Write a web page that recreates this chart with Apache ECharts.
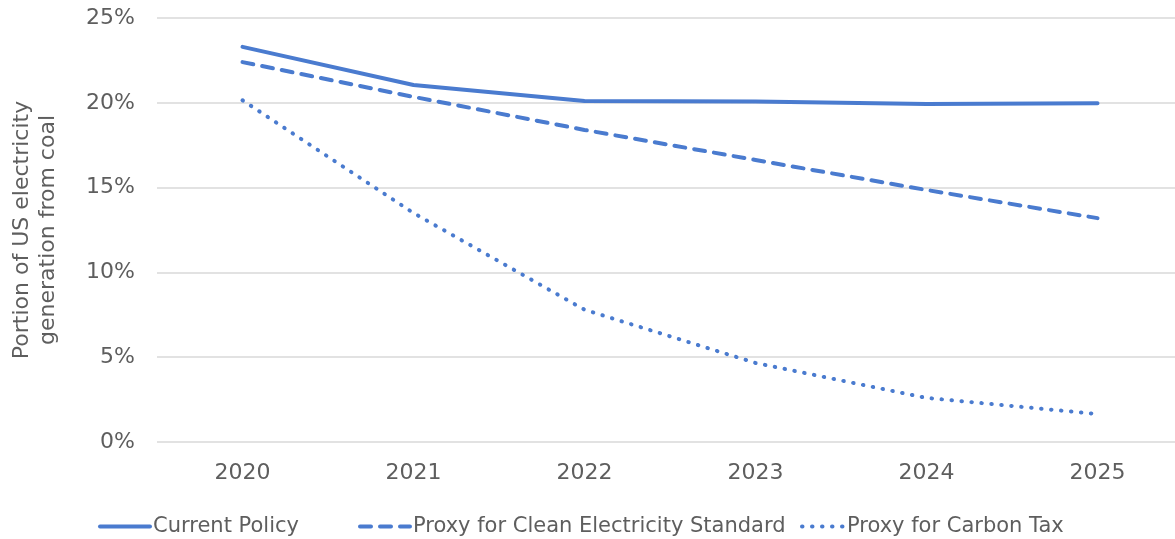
<!DOCTYPE html>
<html>
<head>
<meta charset="utf-8">
<script src="https://cdn.jsdelivr.net/npm/echarts@6/dist/echarts.min.js"></script>
<style>
  html, body { margin: 0; padding: 0; background: #fff; }
  #chart { width: 1175px; height: 539px; }
</style>
</head>
<body>
<div id="chart"></div>
<script>
// Share of US electricity generated from coal under three policy scenarios (%)
const years = ['2020', '2021', '2022', '2023', '2024', '2025'];
const currentPolicy = [23.3, 21.05, 20.1, 20.07, 19.93, 19.98];
const cleanElectricityStandard = [22.4, 20.35, 18.4, 16.63, 14.86, 13.2];
const carbonTax = [20.15, 13.5, 7.8, 4.66, 2.6, 1.65];
const yTicks = [0, 5, 10, 15, 20, 25];
const seriesNames = ['Current Policy', 'Proxy for Clean Electricity Standard', 'Proxy for Carbon Tax'];

const blue = '#4a7bcf';
const textColor = '#5e5e5e';
const font = '"DejaVu Sans", sans-serif';

// one legend block per series so each entry sits at its own x
const legendLeft = [98, 358, 800];
const legendIconWidth = [50, 50, 42];
const legends = seriesNames.map((name, i) => ({
  data: [name],
  left: legendLeft[i],
  bottom: 2,
  padding: 0,
  itemWidth: legendIconWidth[i],
  itemHeight: 14,
  itemStyle: { opacity: 0 },
  lineStyle: { width: 4, cap: 'round' },
  textStyle: { color: textColor, fontSize: 21, fontFamily: font, padding: [0, 0, 0, -2] }
}));

const chart = echarts.init(document.getElementById('chart'));
chart.setOption({
  animation: false,
  grid: { left: 157, right: -8, top: 18, bottom: 97, outerBoundsMode: 'none', containLabel: false },
  xAxis: {
    type: 'category',
    data: years,
    boundaryGap: true,
    axisLine: { show: false },
    axisTick: { show: false },
    axisLabel: { color: textColor, fontSize: 22, fontFamily: font, margin: 20 }
  },
  yAxis: {
    type: 'value',
    min: yTicks[0],
    max: yTicks[yTicks.length - 1],
    interval: 5,
    name: 'Portion of US electricity\ngeneration from coal',
    nameLocation: 'middle',
    nameGap: 96,
    nameTextStyle: { color: textColor, fontSize: 22, fontFamily: font, lineHeight: 26 },
    axisLine: { show: false },
    axisTick: { show: false },
    splitLine: { lineStyle: { color: '#d9d9d9', width: 1.5 } },
    axisLabel: { color: textColor, fontSize: 22, fontFamily: font, margin: 22, formatter: v => v + '%' }
  },
  legend: legends,
  series: [
    {
      name: seriesNames[0],
      type: 'line',
      data: currentPolicy,
      symbol: 'none',
      color: blue,
      lineStyle: { color: blue, width: 4, cap: 'round' }
    },
    {
      name: seriesNames[1],
      type: 'line',
      data: cleanElectricityStandard,
      symbol: 'none',
      color: blue,
      lineStyle: { color: blue, width: 4, type: [11, 9], cap: 'round' }
    },
    {
      name: seriesNames[2],
      type: 'line',
      data: carbonTax,
      symbol: 'none',
      color: blue,
      lineStyle: { color: blue, width: 4, type: [0.5, 9.5], cap: 'round' }
    }
  ]
});
</script>
</body>
</html>
